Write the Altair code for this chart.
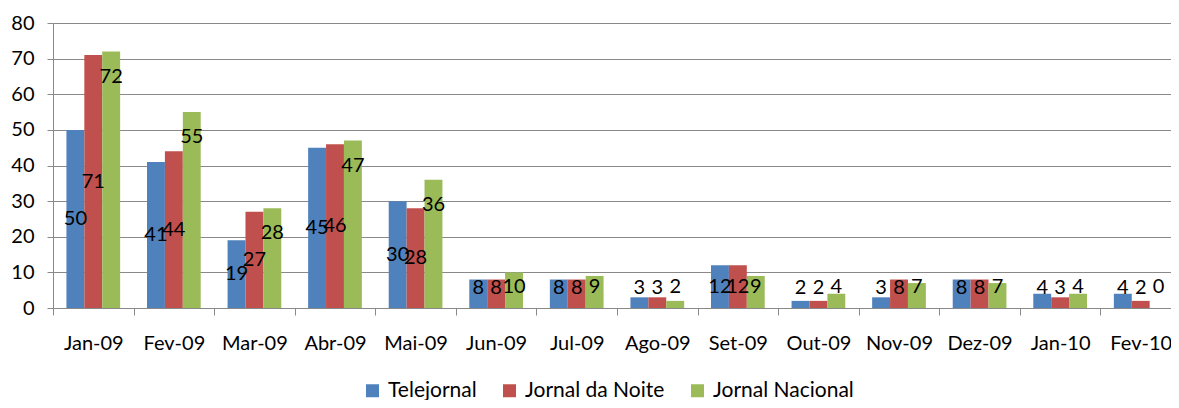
import altair as alt
import pandas as pd

months = ["Jan-09", "Fev-09", "Mar-09", "Abr-09", "Mai-09", "Jun-09", "Jul-09",
          "Ago-09", "Set-09", "Out-09", "Nov-09", "Dez-09", "Jan-10", "Fev-10"]
series_names = ["Telejornal", "Jornal da Noite", "Jornal Nacional"]
telejornal = [50, 41, 19, 45, 30, 8, 8, 3, 12, 2, 3, 8, 4, 4]
jornal_da_noite = [71, 44, 27, 46, 28, 8, 8, 3, 12, 2, 8, 8, 3, 2]
jornal_nacional = [72, 55, 28, 47, 36, 10, 9, 2, 9, 4, 7, 7, 4, 0]
colors = ["#4F81BD", "#C0504D", "#9BBB59"]
y_ticks = [0, 10, 20, 30, 40, 50, 60, 70, 80]

rows = []
for name, vals in zip(series_names, [telejornal, jornal_da_noite, jornal_nacional]):
    for m, v in zip(months, vals):
        rows.append({"month": m, "series": name, "value": v})
df = pd.DataFrame(rows)

FONT = "Lato"
FS = 20
LFS = 21
GRAY = "#898989"

# the original chart runs past its right edge: the band range goes a little past the view
x_scale = alt.Scale(range=[0, 1128], paddingInner=0, paddingOuter=0)
y_scale = alt.Scale(domain=[0, 80], nice=False)
xoff_scale = alt.Scale(paddingInner=0, paddingOuter=0.75)

x_axis = alt.Axis(labelAngle=0, tickBand="extent", tickSize=7, labelPadding=18,
                  domainColor=GRAY, tickColor=GRAY, grid=False,
                  labelColor="black", labelFont=FONT, labelFontSize=FS)
y_axis = alt.Axis(values=y_ticks, tickSize=6, labelPadding=13, labelOverlap=False,
                  domainColor=GRAY, tickColor=GRAY, gridColor=GRAY, grid=True,
                  labelColor="black", labelFont=FONT, labelFontSize=FS)

bars = alt.Chart(df).mark_bar().encode(
    x=alt.X("month:N", sort=months, title=None, scale=x_scale, axis=x_axis),
    xOffset=alt.XOffset("series:N", sort=series_names, scale=xoff_scale),
    y=alt.Y("value:Q", title=None, scale=y_scale, axis=y_axis),
    color=alt.Color("series:N", sort=series_names,
                    scale=alt.Scale(domain=series_names, range=colors),
                    legend=alt.Legend(title=None, orient="none", direction="horizontal",
                                      legendX=309, legendY=357, symbolType="square",
                                      symbolSize=169, symbolStrokeWidth=0,
                                      labelFont=FONT, labelFontSize=LFS, labelColor="black",
                                      labelOffset=5, columnPadding=22, padding=0)),
)

base_text = alt.Chart(df).encode(
    x=alt.X("month:N", sort=months, title=None, scale=x_scale, axis=x_axis),
    xOffset=alt.XOffset("series:N", sort=series_names, scale=xoff_scale),
    text=alt.Text("value:Q"),
)

text_center = base_text.transform_filter(
    alt.datum.series != "Jornal Nacional"
).transform_calculate(
    lab="max(datum.value / 2, 5.75)"
).mark_text(font=FONT, fontSize=FS, color="black", baseline="middle").encode(
    y=alt.Y("lab:Q", title=None, scale=y_scale, axis=y_axis)
)

text_end = base_text.transform_filter(
    alt.datum.series == "Jornal Nacional"
).transform_calculate(
    lab="max(datum.value, 12.8)"
).mark_text(font=FONT, fontSize=FS, color="black", baseline="middle", dy=25).encode(
    y=alt.Y("lab:Q", title=None, scale=y_scale, axis=y_axis)
)

chart = alt.layer(bars, text_center, text_end).properties(
    width=1118, height=285,
    autosize=alt.AutoSizeParams(type="none"),
    padding={"left": 45, "top": 15, "right": 0, "bottom": 92},
).configure_view(stroke=None)

chart.save("out.html", embed_options={"renderer": "svg", "actions": False})
